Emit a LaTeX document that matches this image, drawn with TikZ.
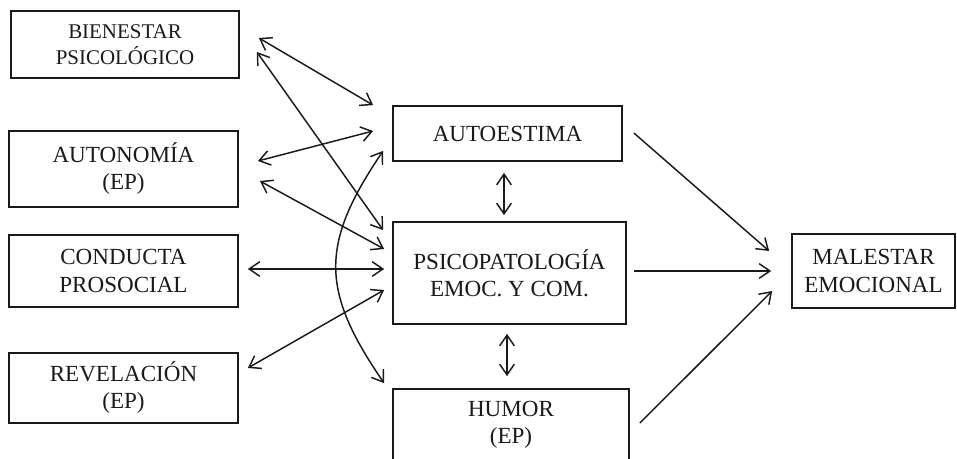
\documentclass[tikz,border=0pt]{standalone}
\usepackage{fontspec}
\setmainfont{Liberation Serif}
\usetikzlibrary{arrows.meta,calc}
\definecolor{ink}{HTML}{1A1A1A}
\begin{document}
\begin{tikzpicture}[x=0.75pt,y=-0.75pt,
  box/.style={draw=ink, line width=1.3pt, align=center, inner sep=0pt,
    font=\fontsize{17.3}{20.3}\selectfont, text=ink},
  small/.style={font=\fontsize{15.7}{19.5}\selectfont},
  link/.style={draw=ink, line width=1.1pt},
  both/.style={link, {Straight Barb[length=8pt,width=11pt]}-{Straight Barb[length=8pt,width=11pt]}},
  one/.style={link, -{Straight Barb[length=8pt,width=11pt]}}]
\fill[white] (0,0) rectangle (957,459);
\useasboundingbox (0,0) rectangle (957,459);

% left column
\node[box, small, minimum width=171pt, minimum height=50.25pt] (bien) at (125,44.5)
  {BIENESTAR\\PSICOLÓGICO};
\node[box, minimum width=171.75pt, minimum height=57pt] (auto) at (123.5,169)
  {AUTONOMÍA\\(EP)};
\node[box, minimum width=171.75pt, minimum height=54pt] (cond) at (123.5,271)
  {CONDUCTA\\PROSOCIAL};
\node[box, minimum width=171.75pt, minimum height=52.5pt] (rev) at (123.5,388)
  {REVELACIÓN\\(EP)};

% middle column
\node[box, minimum width=171.75pt, minimum height=41.25pt] (este) at (507.5,133.5)
  {AUTOESTIMA};
\node[box, minimum width=174.75pt, minimum height=76.5pt] (psico) at (509.5,273)
  {PSICOPATOLOGÍA\\EMOC. Y COM.};
\node[box, minimum width=177pt, minimum height=54pt] (hum) at (511,425)
  {HUMOR\\(EP)};

% outcome
\node[box, minimum width=122.25pt, minimum height=55.5pt] (mal) at (873.5,271)
  {MALESTAR\\EMOCIONAL};

% correlations with the left column
\draw[both] ($(bien.east)+(19,-6.5)$) -- ($(este.north west)+(-19,0)$);
\draw[both] ($(bien.east)+(17,7.5)$) -- ($(psico.north west)+(-9,9)$);
\draw[both] ($(auto.east)+(19,-8)$) -- ($(este.west)+(-19,-2.5)$);
\draw[both] ($(auto.east)+(21,12)$) -- ($(psico.west)+(-8,-24)$);
\draw[both] ($(cond.east)+(9,-2)$) -- ($(psico.west)+(-8,-4)$);
\draw[both] ($(rev.east)+(9,-20)$) -- ($(psico.west)+(-8,17)$);

% curved correlation between self-esteem and humour
\draw[both] ($(este.south west)+(-9,-11)$) .. controls +(-63,93) and +(-64,-93) .. ($(hum.north west)+(-8,-5)$);

% vertical correlations
\draw[both] ($(este.south)+(-3.5,11)$) -- ($(psico.north)+(-5.5,-6)$);
\draw[both] ($(psico.south)+(-2.5,9)$) -- ($(hum.north)+(-4,-12)$);

% paths to the outcome
\draw[one] ($(este.east)+(11,-0.5)$) -- ($(mal.west)+(-22,-20)$);
\draw[one] ($(psico.east)+(7,-2)$) -- ($(mal.west)+(-20,0)$);
\draw[one] ($(hum.east)+(10,-2)$) -- ($(mal.west)+(-19,20)$);
\end{tikzpicture}
\end{document}
